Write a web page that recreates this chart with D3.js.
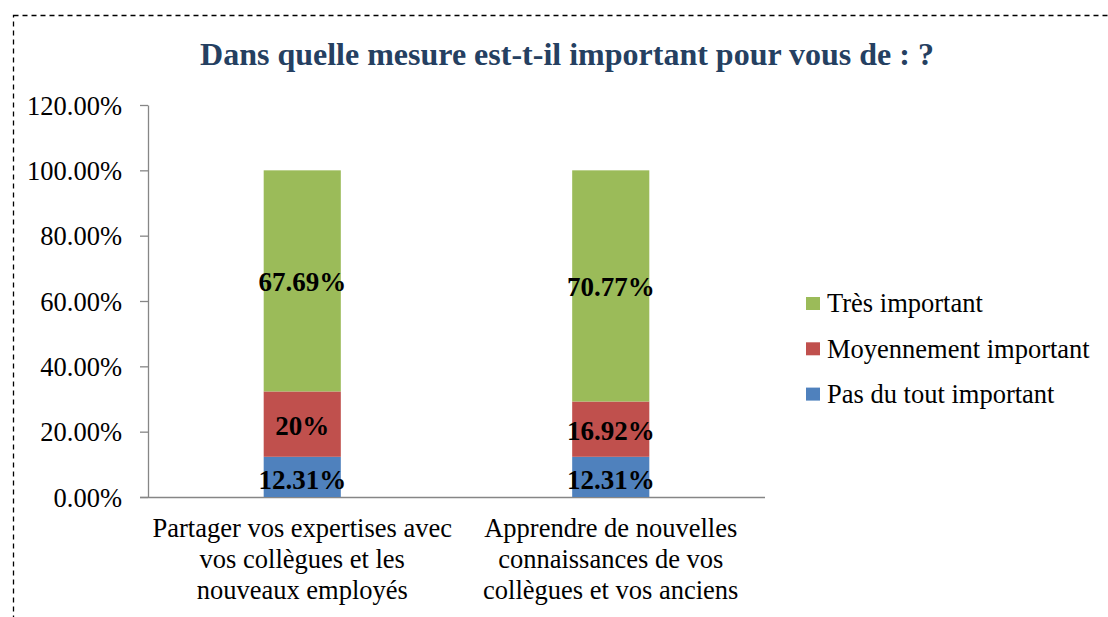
<!doctype html>
<html lang="fr">
<head>
<meta charset="utf-8">
<title>Dans quelle mesure</title>
<style>
  body { margin: 0; background: #fff; }
  svg, svg text { font-family: "Liberation Serif", "Times New Roman", "DejaVu Serif", serif; }
</style>
</head>
<body>
<div id="chart"></div>
<script src="https://d3js.org/d3.v7.min.js"></script>
<script>
// data
var categories = [
  ["Partager vos expertises avec", "vos collègues et les", "nouveaux employés"],
  ["Apprendre de nouvelles", "connaissances de vos", "collègues et vos anciens"]
];
var seriesNames = ["Pas du tout important", "Moyennement important", "Très important"];
var pasDuTout = [12.31, 12.31];
var moyennement = [20, 16.92];
var tres = [67.69, 70.77];
var valueLabels = [["12.31%", "12.31%"], ["20%", "16.92%"], ["67.69%", "70.77%"]];
var yTicks = [0, 20, 40, 60, 80, 100, 120];
var colors = ["#4F81BD", "#C0504D", "#9BBB59"];

var serif = '"Liberation Serif", "Times New Roman", serif';
var width = 1108, height = 617;
var svg = d3.select("#chart").append("svg")
  .attr("width", width).attr("height", height)
  .style("font-family", serif);

// dashed frame
svg.append("rect")
  .attr("x", 13.5).attr("y", 15.5)
  .attr("width", 1200).attr("height", 700)
  .attr("fill", "none").attr("stroke", "#000")
  .attr("stroke-width", 1.3)
  .attr("stroke-dasharray", "5,4");

svg.append("text")
  .attr("x", 567).attr("y", 65)
  .attr("text-anchor", "middle")
  .style("font-family", serif)
  .attr("font-size", 32).attr("font-weight", "bold")
  .attr("fill", "#254061")
  .text("Dans quelle mesure est-t-il important pour vous de : ?");

var x = d3.scaleBand().domain(d3.range(categories.length)).range([148, 765]).paddingInner(0).paddingOuter(0);
var y = d3.scaleLinear().domain([0, 120]).range([497, 105]);

// y axis
var yAxis = svg.append("g").attr("transform", "translate(148,0)")
  .call(d3.axisLeft(y).tickValues(yTicks).tickSize(8).tickSizeOuter(0)
    .tickFormat(function(d) { return d.toFixed(2) + "%"; }));
yAxis.attr("font-family", null).attr("font-size", null);
yAxis.select(".domain").attr("stroke", "#868686").attr("stroke-width", 1.3);
yAxis.selectAll(".tick line").attr("stroke", "#868686").attr("stroke-width", 1.3);
yAxis.selectAll(".tick text").attr("fill", "#000")
  .style("font-family", serif).style("font-size", "26.5px")
  .attr("x", -26).attr("dy", "0.34em");

// x axis line
svg.append("line")
  .attr("x1", 140).attr("x2", 765)
  .attr("y1", y(0) + 0.5).attr("y2", y(0) + 0.5)
  .attr("stroke", "#868686").attr("stroke-width", 1.3);

// stacked bars
var rows = categories.map(function(c, i) {
  return { i: i, s0: pasDuTout[i], s1: moyennement[i], s2: tres[i] };
});
var stack = d3.stack().keys(["s0", "s1", "s2"])(rows);
var barW = x.bandwidth() * 0.25;

stack.forEach(function(layer, k) {
  var g = svg.append("g");
  g.selectAll("rect").data(layer).enter().append("rect")
    .attr("x", function(d) { return x(d.data.i) + x.bandwidth() / 2 - barW / 2; })
    .attr("y", function(d) { return y(d[1]); })
    .attr("width", barW)
    .attr("height", function(d) { return y(d[0]) - y(d[1]); })
    .attr("fill", colors[k]);
});

stack.forEach(function(layer, k) {
  svg.append("g").selectAll("text").data(layer).enter().append("text")
    .attr("x", function(d) { return x(d.data.i) + x.bandwidth() / 2; })
    .attr("y", function(d) { return (y(d[0]) + y(d[1])) / 2 + (k === 0 ? 3 : 1); })
    .attr("dy", "0.35em")
    .attr("text-anchor", "middle")
    .style("font-family", serif)
    .attr("font-size", 27).attr("font-weight", "bold").attr("fill", "#000")
    .text(function(d, i) { return valueLabels[k][i]; });
});

// category labels
categories.forEach(function(lines, i) {
  var t = svg.append("text")
    .attr("text-anchor", "middle")
    .style("font-family", serif)
    .attr("font-size", 26.5).attr("fill", "#000");
  lines.forEach(function(line, j) {
    t.append("tspan")
      .attr("x", x(i) + x.bandwidth() / 2)
      .attr("y", 537 + j * 31)
      .text(line);
  });
});

// legend
var legendOrder = [2, 1, 0];
legendOrder.forEach(function(k, j) {
  var ly = 303 + j * 45.3;
  svg.append("rect")
    .attr("x", 806).attr("y", ly - 6).attr("width", 14).attr("height", 13)
    .attr("fill", colors[k]);
  svg.append("text")
    .attr("x", 827).attr("y", ly).attr("dy", "0.35em")
    .style("font-family", serif)
    .attr("font-size", 26.5).attr("fill", "#000")
    .text(seriesNames[k]);
});
</script>
</body>
</html>
